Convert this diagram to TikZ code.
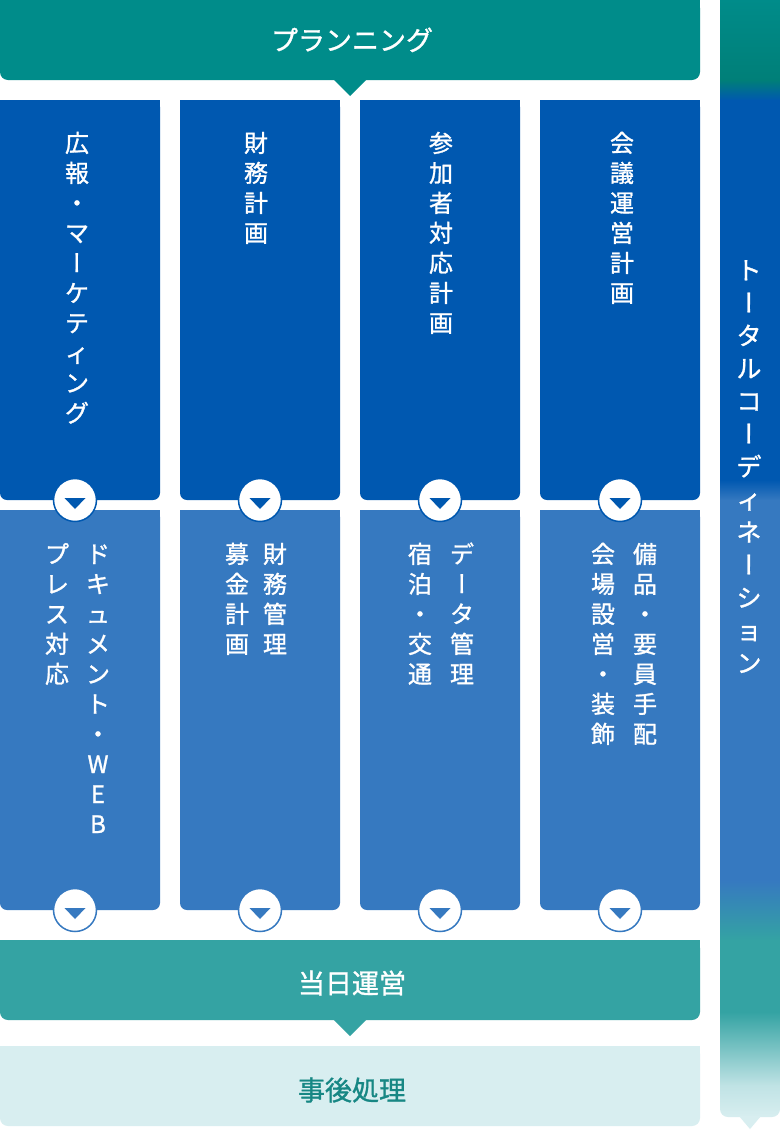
\documentclass[tikz,border=0pt]{standalone}
\usepackage{fontspec}
\newfontfamily\jp[FakeBold=1.1]{Noto Sans CJK JP}
\newfontfamily\vjp[FakeBold=1.1,RawFeature=+vert]{Noto Sans CJK JP}
\definecolor{planteal}{HTML}{008C8A}
\definecolor{darkteal}{HTML}{007F78}
\definecolor{dblue}{HTML}{0058B0}
\definecolor{lblue}{HTML}{3679C0}
\definecolor{mteal}{HTML}{34A3A3}
\definecolor{pale}{HTML}{D8EEF0}
\definecolor{txteal}{HTML}{178784}
\newcommand\VB{{\vjp ー}}
% name, x, first y, pitch, list, style
\newcommand\vcol[6]{\foreach \c [count=\i] in {#5}{\node[#6] (#1-\i) at (#2,{#3+#4*(\i-1)}) {\c};}}
\begin{document}
\begin{tikzpicture}[x=1pt,y=-1pt,
  vch/.style={inner sep=0pt, text height=21pt, text depth=3pt, text=white, font=\jp\fontsize{24}{24}\selectfont},
  vchR/.style={inner sep=0pt, text height=22pt, text depth=3pt, text=white, font=\jp\fontsize{25}{25}\selectfont},
  title/.style={inner sep=0pt, text height=23.8pt, text depth=3.2pt, font=\jp\fontsize{27}{27}\selectfont},
  knob/.style={circle, fill=white, line width=1.5pt, minimum size=43pt, inner sep=0pt}]
\useasboundingbox (0,0) rectangle (780,1130);
\fill[white] (0,0) rectangle (780,1130);

% planning bar
\fill[planteal, rounded corners=8pt] (0,0) rectangle (700,80);
\fill[planteal] (0,0) rectangle (700,40);
\fill[planteal] (333,79) -- (367,79) -- (350,96) -- cycle;
\node[title, text=white] (plan) at (352,40) {プランニング};

% column boxes
\foreach \xl in {0,180,360,540}{
  \fill[dblue, rounded corners=7pt] (\xl,100) rectangle ++(160,400);
  \fill[dblue] (\xl,100) rectangle ++(160,200);
  \fill[lblue, rounded corners=7pt] (\xl,510) rectangle ++(160,400);
  \fill[lblue] (\xl,510) rectangle ++(160,200);
}

% knobs
\foreach \i/\cx in {1/75,2/260,3/440,4/620}{
  \node[knob, draw=dblue] (kt\i) at (\cx,500) {};
  \fill[dblue, shift={(kt\i.center)}] (-10.5,-2) -- (10.5,-2) -- (0,9) -- cycle;
  \node[knob, draw=lblue] (kb\i) at (\cx,910) {};
  \fill[lblue, shift={(kb\i.center)}] (-10.5,-2) -- (10.5,-2) -- (0,9) -- cycle;
}

% top texts
\vcol{ta}{77}{143}{30}{広,報,・,マ,\VB,ケ,テ,ィ,ン,グ}{vch}
\vcol{tb}{256}{143}{30}{財,務,計,画}{vch}
\vcol{tc}{441}{143}{30}{参,加,者,対,応,計,画}{vch}
\vcol{td}{622}{143}{30}{会,議,運,営,計,画}{vch}

% bottom texts
\vcol{ba}{98}{554}{30}{ド,キ,ュ,メ,ン,ト,・,W,E,B}{vch}
\vcol{bA}{57}{554}{30}{プ,レ,ス,対,応}{vch}
\vcol{bb}{275}{554}{30}{財,務,管,理}{vch}
\vcol{bB}{237}{554}{30}{募,金,計,画}{vch}
\vcol{bc}{462}{554}{30}{デ,\VB,タ,管,理}{vch}
\vcol{bC}{420}{554}{30}{宿,泊,・,交,通}{vch}
\vcol{bd}{645}{554}{30}{備,品,・,要,員,手,配}{vch}
\vcol{bD}{603}{554}{30}{会,場,設,営,・,装,飾}{vch}

% day-of bar
\fill[mteal, rounded corners=8pt] (0,940) rectangle (700,1020);
\fill[mteal] (0,940) rectangle (700,980);
\fill[mteal] (333,1019) -- (367,1019) -- (350,1036) -- cycle;
\node[title, text=white] (day) at (352,983) {当日運営};

% post bar
\fill[pale, rounded corners=8pt] (0,1046) rectangle (700,1126);
\fill[pale] (0,1046) rectangle (700,1086);
\node[title, text=txteal] (post) at (352,1090) {事後処理};

% right bar
\begin{scope}
  \clip[rounded corners=8pt] (720,-20) rectangle (780,1117);
  \shade[top color=planteal, bottom color=darkteal] (720,-1) rectangle (780,80.5);
  \shade[top color=darkteal, bottom color=dblue] (720,80) rectangle (780,100.5);
  \fill[dblue] (720,100) rectangle (780,480.5);
  \shade[top color=dblue, bottom color=lblue] (720,480) rectangle (780,500.5);
  \fill[lblue] (720,500) rectangle (780,880.5);
  \shade[top color=lblue, bottom color=mteal] (720,880) rectangle (780,940.5);
  \fill[mteal] (720,940) rectangle (780,1012.5);
  \shade[top color=mteal, bottom color=pale!85!mteal] (720,1012) rectangle (780,1085.5);
  \shade[top color=pale!85!mteal, bottom color=pale] (720,1085) rectangle (780,1118);
\end{scope}
\fill[pale] (739,1116) -- (761,1116) -- (750,1129) -- cycle;
\vcol{rt}{749}{270}{32.75}{ト,\VB,タ,ル,コ,\VB,デ,ィ,ネ,\VB,シ,ョ,ン}{vchR}
\end{tikzpicture}
\end{document}
